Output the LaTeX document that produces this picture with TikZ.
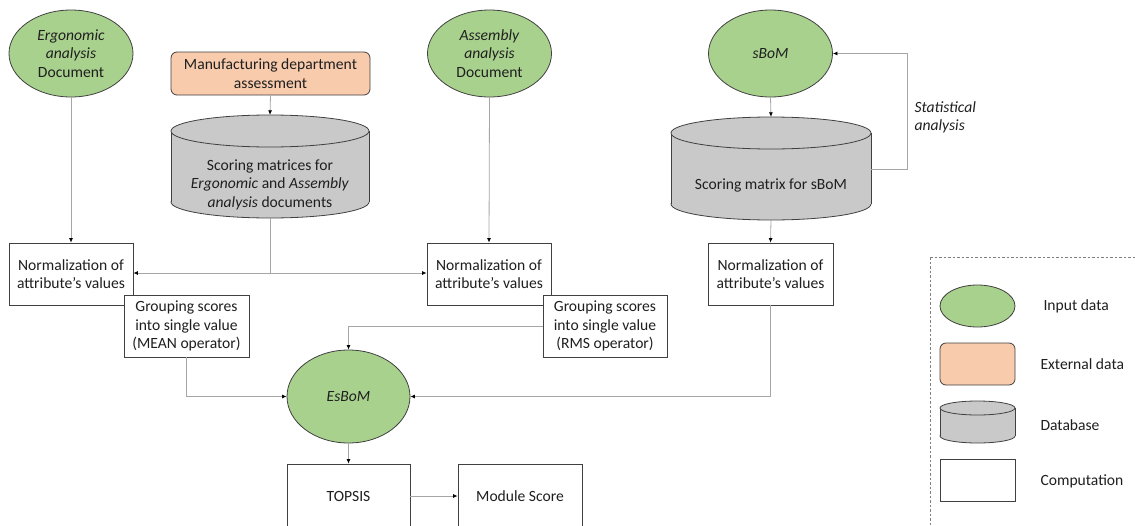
\documentclass[tikz,border=0pt]{standalone}
\usepackage{fontspec}
\setmainfont{Carlito}
\usetikzlibrary{shapes.geometric,arrows.meta}
\definecolor{ingreen}{HTML}{A9D18E}
\definecolor{extorange}{HTML}{F8CBAD}
\definecolor{dbgray}{HTML}{C9C9C9}
\definecolor{bord}{HTML}{404040}
\definecolor{conn}{HTML}{A6A6A6}
\tikzset{
  every node/.style={font=\fontsize{15.6}{18.5}\selectfont, text=black!88},
  inp/.style={ellipse, draw=bord, fill=ingreen, line width=0.8pt, minimum width=124, minimum height=87, inner sep=0pt, align=center},
  comp/.style={rectangle, draw=bord, fill=white, line width=0.8pt, minimum width=124, minimum height=62, inner sep=0pt, align=center},
  extbox/.style={rectangle, rounded corners=6pt, draw=bord, fill=extorange, line width=0.8pt, minimum width=199, minimum height=43, inner sep=0pt, align=center},
  ghost/.style={rectangle, minimum width=#1, inner sep=0pt, align=center},
  dbfill/.style={fill=dbgray},
  dbline/.style={draw=bord, line width=0.8pt},
  link/.style={draw=conn, line width=0.8pt, -{Latex[length=4.5pt,width=4pt,color=black]}},
  plain/.style={draw=conn, line width=0.8pt},
}
\begin{document}
\begin{tikzpicture}[x=1pt,y=-1pt]
\useasboundingbox (0,0) rectangle (1135,525);
% cylinder 1
\filldraw[dbfill,dbline] (270,202) ellipse (99 and 16);
\fill[dbfill] (171,131) rectangle (369,202);
\draw[dbline] (171,131) -- (171,202) (369,131) -- (369,202);
\filldraw[dbfill,dbline] (270,131) ellipse (99 and 16);
\node[ghost=198, minimum height=103] (cyl1) at (270,166.5) {};
\node[align=center] at (270,184.5) {Scoring matrices for\\\textit{Ergonomic} and \textit{Assembly}\\\textit{analysis} documents};
% cylinder 2
\filldraw[dbfill,dbline] (771,204) ellipse (100 and 16);
\fill[dbfill] (671,133) rectangle (871,204);
\draw[dbline] (671,133) -- (671,204) (871,133) -- (871,204);
\filldraw[dbfill,dbline] (771,133) ellipse (100 and 16);
\node[ghost=200, minimum height=103] (cyl2) at (771,168.5) {};
\node at (771,185) {Scoring matrix for sBoM};
% input ellipses
\node[inp] (erg) at (71,53.5) {\textit{Ergonomic}\\\textit{analysis}\\Document};
\node[inp] (asm) at (489.5,53.5) {\textit{Assembly}\\\textit{analysis}\\Document};
\node[inp] (sbom) at (770.5,53.5) {\textit{sBoM}};
\node[extbox] (manu) at (270.5,73.5) {Manufacturing department\\assessment};
% computation boxes
\node[comp] (norm1) at (71,274) {Normalization of\\attribute’s values};
\node[comp] (norm2) at (489,274) {Normalization of\\attribute’s values};
\node[comp, minimum width=125] (norm3) at (770.5,274) {Normalization of\\attribute’s values};
\node[comp, minimum width=125] (grp1) at (186.5,326) {Grouping scores\\into single value\\(MEAN operator)};
\node[comp] (grp2) at (605,326) {Grouping scores\\into single value\\(RMS operator)};
\node[inp, minimum width=123, minimum height=93] (esbom) at (348.5,396.5) {\textit{EsBoM}};
\node[comp, minimum width=123, minimum height=64] (topsis) at (348.5,496) {TOPSIS};
\node[comp, minimum width=124, minimum height=64] (mod) at (520,496) {Module Score};
\node[align=left, anchor=west] (stat) at (911,117.5) {\textit{Statistical}\\\textit{analysis}};
% connectors
\coordinate (j1) at (270,273);
\coordinate (fb1) at (907,169);
\coordinate (fb2) at (907,53.5);
\draw[link] (erg.south) -- (norm1.north);
\draw[link] (asm.south) -- (norm2.north);
\draw[link] (manu.south) -- (cyl1.north);
\draw[plain] (cyl1.south) -- (j1);
\draw[link] (j1) -- (norm1.east |- j1);
\draw[link] (j1) -- (norm2.west |- j1);
\draw[link] (sbom.south) -- (cyl2.north);
\draw[link] (cyl2.south) -- (norm3.north);
\draw[link] (cyl2.east |- fb1) -- (fb1) -- (fb2) -- (sbom.east);
\draw[link] (grp1.south) |- (esbom.west);
\draw[link] (grp2.west) -| (esbom.north);
\draw[link] (norm3.south) |- (esbom.east);
\draw[link] (esbom.south) -- (topsis.north);
\draw[link] (topsis.east) -- (mod.west);
% legend
\draw[draw=gray, line width=0.8pt, dash pattern=on 2.5pt off 2pt] (930,257) -- (1140,257) (930,257) -- (930,530);
\node[inp, minimum width=75, minimum height=42] (lin) at (977.5,306) {};
\node[extbox, minimum width=75, minimum height=42] (lext) at (977.5,364) {};
\filldraw[dbfill,dbline] (977.5,436) ellipse (37.5 and 7);
\fill[dbfill] (940,408) rectangle (1015,436);
\draw[dbline] (940,408) -- (940,436) (1015,408) -- (1015,436);
\filldraw[dbfill,dbline] (977.5,408) ellipse (37.5 and 7);
\node[comp, minimum width=75, minimum height=42] (lcomp) at (977.5,480) {};
\node[anchor=west] (tin) at (1040,306) {Input data};
\node[anchor=west] (text) at (1037,364) {External data};
\node[anchor=west] (tdb) at (1037,425) {Database};
\node[anchor=west] (tcomp) at (1037,481) {Computation};
\end{tikzpicture}
\end{document}
